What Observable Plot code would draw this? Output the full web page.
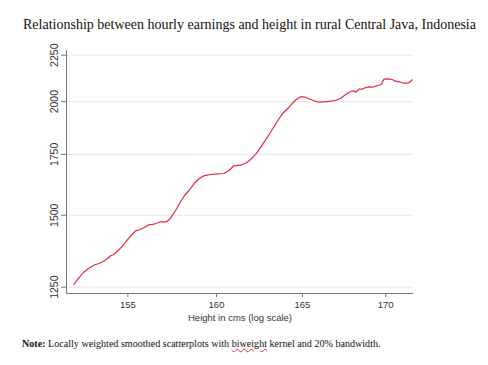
<!DOCTYPE html>
<html>
<head>
<meta charset="utf-8">
<script src="https://cdn.jsdelivr.net/npm/d3@7"></script>
<script src="https://cdn.jsdelivr.net/npm/@observablehq/plot@0.6"></script>
<style>
  html, body { margin: 0; padding: 0; background: #fff; }
  #wrap { position: relative; width: 488px; height: 365px; overflow: hidden; }
  #title { position: absolute; left: 23px; top: 18px; font-family: "Liberation Serif", serif; font-size: 14px; line-height: 14px; color: #111; white-space: nowrap; }
  #chart { position: absolute; left: 0; top: 40px; }
  #note { position: absolute; left: 22px; top: 339px; font-family: "Liberation Serif", serif; font-size: 10.1px; line-height: 10px; color: #111; white-space: nowrap; }
  #note .sp { text-decoration: underline wavy #e03030; text-decoration-thickness: 1px; }
</style>
</head>
<body>
<div id="wrap">
  <div id="title">Relationship between hourly earnings and height in rural Central Java, Indonesia</div>
  <div id="chart"></div>
  <div id="note"><b>Note:</b> Locally weighted smoothed scatterplots with <span class="sp">biweight</span> kernel and 20% bandwidth.</div>
</div>
<script>
// Height in cms (x) and hourly earnings (y)
const heights = [152.03,152.30,152.57,152.85,153.12,153.40,153.67,153.86,154.04,154.22,154.50,154.78,154.97,155.19,155.43,155.65,155.89,156.17,156.45,156.83,157.17,157.39,157.67,157.96,158.18,158.43,158.71,159.00,159.28,159.66,160.05,160.43,160.71,161.00,161.39,161.78,162.07,162.36,162.65,162.94,163.23,163.53,163.82,164.21,164.60,164.90,165.09,165.39,165.69,165.98,166.28,166.68,166.98,167.28,167.58,167.88,168.08,168.18,168.38,168.58,168.78,168.98,169.19,169.39,169.59,169.73,169.89,170.10,170.40,170.60,170.91,171.11,171.32,171.47,171.63];
const earnings = [1258.6,1280.1,1298.4,1311.6,1321.6,1327.4,1335.1,1343.3,1353.5,1358.0,1374.2,1392.8,1409.5,1424.9,1442.0,1445.7,1453.0,1464.1,1466.3,1475.3,1475.3,1488.8,1518.1,1553.1,1576.9,1597.0,1624.4,1645.1,1657.6,1663.1,1666.0,1667.3,1680.0,1700.2,1702.7,1715.7,1735.0,1759.8,1793.1,1827.9,1863.9,1903.5,1939.6,1972.3,2008.6,2025.0,2025.0,2014.7,2004.5,1997.4,1999.4,2002.5,2006.0,2017.8,2036.8,2052.3,2056.0,2048.7,2064.3,2064.3,2073.2,2076.9,2074.8,2080.1,2085.3,2090.6,2117.3,2119.4,2115.7,2106.6,2101.2,2095.9,2095.9,2101.2,2114.1];
const xTicks = [155, 160, 165, 170];
const yTicks = [1250, 1500, 1750, 2000, 2250];
const xDomain = [151.63, 171.7];
const yDomain = [1230.2, 2277];

const data = heights.map((h, i) => ({h, e: earnings[i]}));
const axisColor = "#777";

const chart = Plot.plot({
  width: 488,
  height: 285,
  marginLeft: 66,
  marginRight: 75,
  marginTop: 10,
  marginBottom: 32,
  style: { fontFamily: "Liberation Sans, Arial, sans-serif", fontSize: "9.5px", color: "#333", background: "#fff" },
  x: { type: "log", domain: xDomain },
  y: { type: "log", domain: yDomain },
  marks: [
    Plot.gridY(yTicks, { stroke: "#e8e8e8", strokeOpacity: 1 }),
    Plot.ruleX([xDomain[0]], { stroke: axisColor, strokeWidth: 1 }),
    Plot.ruleY([yDomain[0]], { stroke: axisColor, strokeWidth: 1 }),
    Plot.axisX(xTicks, { tickSize: 4, tickPadding: 4, stroke: axisColor, tickFormat: d => String(d), label: "Height in cms (log scale)", labelAnchor: "center", labelArrow: "none", labelOffset: 27, fill: "#333" }),
    Plot.axisY(yTicks, { tickSize: 5, tickPadding: 4, stroke: axisColor, tickRotate: -90, textAnchor: "middle", lineAnchor: "bottom", fontSize: 10.5, tickFormat: d => String(d), label: null, fill: "#333" }),
    Plot.line(data, { x: "h", y: "e", stroke: "#e8283c", strokeWidth: 1.2, curve: "linear" })
  ]
});
document.getElementById("chart").appendChild(chart);
</script>
</body>
</html>
